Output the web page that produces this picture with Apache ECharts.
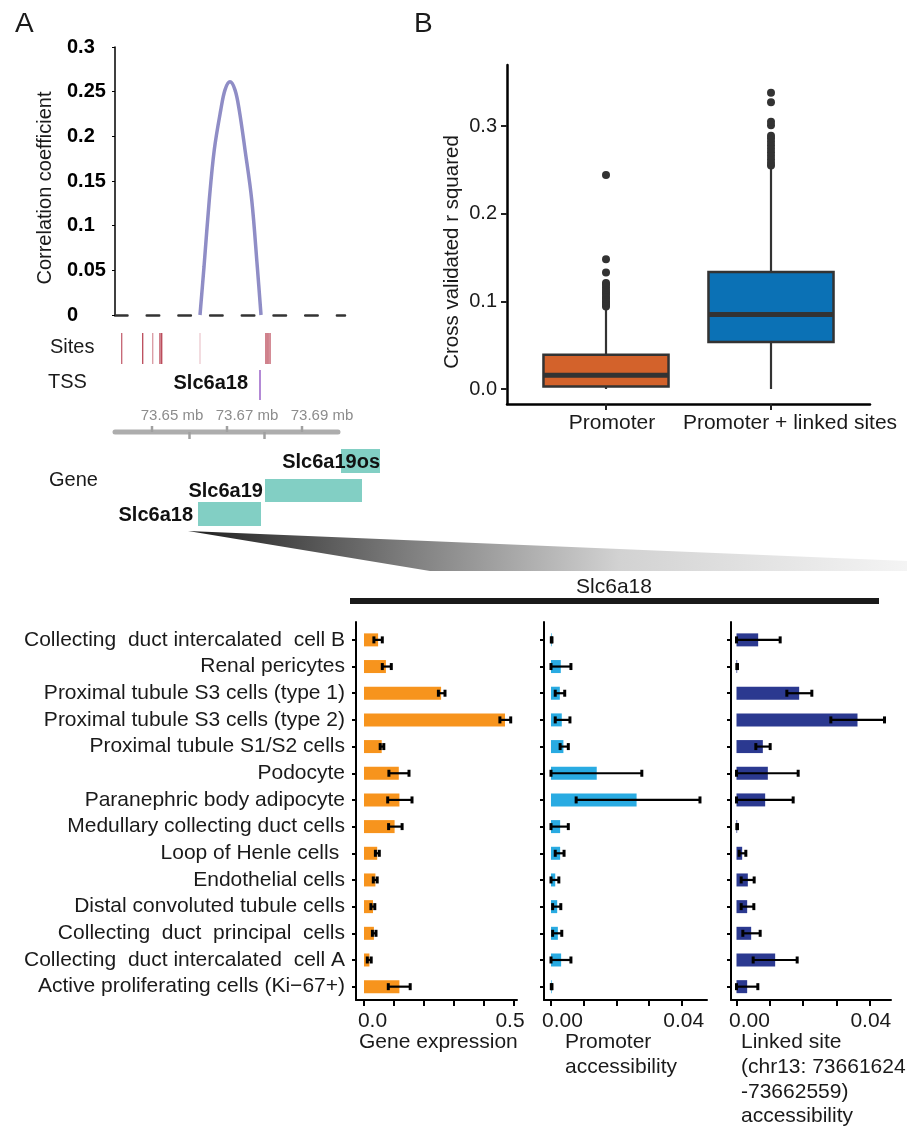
<!DOCTYPE html>
<html><head><meta charset="utf-8">
<script src="https://cdn.jsdelivr.net/npm/echarts@6/dist/echarts.min.js"></script>
<style>html,body{margin:0;padding:0;background:#fff}#c{width:907px;height:1128px}</style>
</head><body><div id="c"></div>
<script>
// ---------------- DATA ----------------
// Panel A : correlation arc between linked site and TSS (genomic positions in mb)
const corrTickValues = [0, 0.05, 0.1, 0.15, 0.2, 0.25, 0.3];
const corrTickLabels = ['0', '0.05', '0.1', '0.15', '0.2', '0.25', '0.3'];
const linkArcMb = [73.6628, 73.66387, 73.66528, 73.66661, 73.66832, 73.66947, 73.6708, 73.67213, 73.67328, 73.6748, 73.67659, 73.67808, 73.67907];
const linkArcR  = [0, 0.054, 0.129, 0.185, 0.229, 0.252, 0.261, 0.252, 0.229, 0.185, 0.129, 0.054, 0];
const sitePositionsMb = [73.64192, 73.64752, 73.65019, 73.65213, 73.65259, 73.6628, 73.6804, 73.68093, 73.68147];
const siteShade = [0.7, 0.85, 0.4, 0.9, 0.9, 0.12, 0.9, 0.9, 0.8];
const tssPositionsMb = [73.6788];
const tssGenes = ['Slc6a18'];
const geneNames = ['Slc6a18', 'Slc6a19', 'Slc6a19os'];
const geneStartsMb = [73.66227, 73.68013, 73.7004];
const geneEndsMb = [73.67907, 73.70600, 73.7108];
const rulerTicksMb = [73.65, 73.66, 73.67, 73.68, 73.69];
const rulerTickLabels = ['73.65 mb', '', '73.67 mb', '', '73.69 mb'];
const rulerStartMb = 73.640133, rulerEndMb = 73.6996;

// Panel B : boxplots of cross-validated r squared
const boxCategories = ['Promoter', 'Promoter + linked sites'];
const boxStats = [ // [min, Q1, median, Q3, max]
  [0, 0.003, 0.0156, 0.0392, 0.091],
  [0, 0.0537, 0.0849, 0.1336, 0.252]
];
const promoterOutliers = [0.094, 0.096, 0.098, 0.100, 0.103, 0.105, 0.108, 0.110, 0.113, 0.116, 0.119, 0.121, 0.133, 0.148, 0.244];
const linkedOutliers = [0.255, 0.258, 0.262, 0.266, 0.270, 0.274, 0.278, 0.282, 0.286, 0.289, 0.301, 0.305, 0.327, 0.338];
const boxTickValues = [0, 0.1, 0.2, 0.3];
const boxTickLabels = ['0.0', '0.1', '0.2', '0.3'];

// Panel C : Slc6a18 per cell type
const cellTypes = [
  'Collecting  duct intercalated  cell B',
  'Renal pericytes',
  'Proximal tubule S3 cells (type 1)',
  'Proximal tubule S3 cells (type 2)',
  'Proximal tubule S1/S2 cells',
  'Podocyte',
  'Paranephric body adipocyte',
  'Medullary collecting duct cells',
  'Loop of Henle cells ',
  'Endothelial cells',
  'Distal convoluted tubule cells',
  'Collecting  duct  principal  cells',
  'Collecting  duct intercalated  cell A',
  'Active proliferating cells (Ki\u221267+)'
];
const geneExpr   = [0.047, 0.073, 0.257, 0.470, 0.059, 0.116, 0.118, 0.102, 0.044, 0.038, 0.030, 0.033, 0.018, 0.118];
const geneExprLo = [0.033, 0.061, 0.248, 0.453, 0.054, 0.083, 0.079, 0.082, 0.038, 0.031, 0.023, 0.028, 0.011, 0.081];
const geneExprHi = [0.061, 0.091, 0.270, 0.489, 0.066, 0.150, 0.160, 0.127, 0.051, 0.044, 0.036, 0.040, 0.024, 0.154];
const promAcc   = [0.0002, 0.0030, 0.0027, 0.0033, 0.0038, 0.0140, 0.0262, 0.0028, 0.0028, 0.0013, 0.0019, 0.0021, 0.0031, 0.0002];
const promAccLo = [0.0001, 0.0000, 0.0013, 0.0013, 0.0028, 0.0000, 0.0077, 0.0000, 0.0013, 0.0000, 0.0005, 0.0005, 0.0000, 0.0001];
const promAccHi = [0.0003, 0.0061, 0.0042, 0.0058, 0.0053, 0.0278, 0.0456, 0.0053, 0.0040, 0.0024, 0.0030, 0.0033, 0.0061, 0.0003];
const linkAcc   = [0.0065, 0.0002, 0.0188, 0.0363, 0.0079, 0.0094, 0.0086, 0.0002, 0.0017, 0.0034, 0.0032, 0.0044, 0.0116, 0.0032];
const linkAccLo = [0.0000, 0.0001, 0.0151, 0.0283, 0.0058, 0.0000, 0.0000, 0.0001, 0.0008, 0.0014, 0.0014, 0.0019, 0.0050, 0.0000];
const linkAccHi = [0.0131, 0.0003, 0.0226, 0.0444, 0.0101, 0.0185, 0.0170, 0.0003, 0.0028, 0.0053, 0.0052, 0.0071, 0.0182, 0.0064];
const geneExprTicks = [0, 0.1, 0.2, 0.3, 0.4, 0.5];
const geneExprLabelValues = [0, 0.5];
const geneExprLabelTexts = ['0.0', '0.5'];
const accTicks = [0, 0.01, 0.02, 0.03, 0.04];
const accLabelValues = [0, 0.04];
const accLabelTexts = ['0.00', '0.04'];

// ---------------- STYLE / LAYOUT ----------------
const FONT = '"Liberation Sans", Arial, Helvetica, sans-serif';
const TXT = '#1a1a1a';
const xMinMb = 73.640133, xMaxMb = 73.701467;

const chart = echarts.init(document.getElementById('c'), null, {renderer: 'canvas'});

function txt(x, y, text, opt) {
  opt = opt || {};
  const al = opt.align || 'left', va = opt.va || 'middle';
  return {
    type: 'text', x: x, y: y, rotation: opt.rotation || 0, z: 10,
    style: {
      text: text, font: (opt.weight || 'normal') + ' ' + (opt.size || 20) + 'px ' + FONT,
      fill: opt.color || TXT, align: al, textAlign: al, verticalAlign: va, textVerticalAlign: va
    }
  };
}

function mixColor(t) {
  const a = [244, 222, 226], b = [176, 46, 64];
  const c = a.map((v, i) => Math.round(v + (b[i] - v) * t));
  return 'rgb(' + c.join(',') + ')';
}

function barSeries(idx, vals, lo, hi, color) {
  return {
    type: 'custom', xAxisIndex: idx, yAxisIndex: idx, clip: false,
    data: vals.map((v, i) => [v, i + 1, lo[i], hi[i]]),
    encode: {x: [0, 2, 3], y: 1},
    renderItem: function (params, api) {
      const v = api.value(0), c = api.value(1), l = api.value(2), h = api.value(3);
      const p0 = api.coord([0, c]), p1 = api.coord([v, c]);
      const pl = api.coord([l, c]), ph = api.coord([h, c]);
      const bh = 13;
      return {type: 'group', children: [
        {type: 'rect', shape: {x: p0[0], y: p0[1] - bh / 2, width: Math.max(0, p1[0] - p0[0]), height: bh}, style: {fill: color}},
        {type: 'line', shape: {x1: pl[0], y1: pl[1], x2: ph[0], y2: ph[1]}, style: {stroke: '#000', lineWidth: 2.2}},
        {type: 'rect', shape: {x: pl[0] - 1.5, y: pl[1] - 3.5, width: 3, height: 7}, style: {fill: '#000'}},
        {type: 'rect', shape: {x: ph[0] - 1.5, y: ph[1] - 3.5, width: 3, height: 7}, style: {fill: '#000'}}
      ]};
    }
  };
}

function barYAxis(idx, showLabels) {
  const cats = cellTypes.map((_, i) => i + 1);
  return {
    gridIndex: idx, type: 'value', inverse: true, min: 0.33, max: 14.5,
    splitLine: {show: false},
    axisLine: {show: true, onZero: false, lineStyle: {color: '#000', width: 2}},
    axisTick: {show: true, customValues: cats, length: 4, lineStyle: {color: '#000', width: 2}},
    axisLabel: {show: showLabels, customValues: cats, margin: 11, fontSize: 21, fontFamily: FONT, color: TXT,
      formatter: v => cellTypes[Math.round(v) - 1]}
  };
}

// padFirst / padLast: label paddings that reproduce the reference's label offsets from their ticks
function barXAxis(idx, min, max, ticks, labelValues, labelTexts, padFirst, padLast) {
  return {
    gridIndex: idx, type: 'value', min: min, max: max,
    splitLine: {show: false},
    axisLine: {show: true, onZero: false, lineStyle: {color: '#000', width: 2}},
    axisTick: {show: true, customValues: ticks, length: 6, lineStyle: {color: '#000', width: 2}},
    axisLabel: {customValues: labelValues, margin: 11, fontSize: 21, fontFamily: FONT, color: TXT,
      formatter: v => {
        const i = labelValues.findIndex(t => Math.abs(t - v) < 1e-9);
        return i === 0 ? '{f|' + labelTexts[i] + '}' : '{l|' + labelTexts[i] + '}';
      },
      rich: {
        f: {fontSize: 21, fontFamily: FONT, color: TXT, padding: padFirst},
        l: {fontSize: 21, fontFamily: FONT, color: TXT, padding: padLast}
      }}
  };
}

const option = {
  animation: false,
  backgroundColor: '#fff',
  grid: [
    {left: 115, top: 47, width: 230, height: 268, outerBoundsMode: 'none'},   // 0 correlation
    {left: 115, top: 320, width: 230, height: 220, outerBoundsMode: 'none'},  // 1 tracks
    {left: 507, top: 65, width: 363, height: 339, outerBoundsMode: 'none'},   // 2 boxplot
    {left: 356, top: 622, width: 161, height: 378, outerBoundsMode: 'none'},  // 3 gene expr
    {left: 544, top: 622, width: 163, height: 378, outerBoundsMode: 'none'},  // 4 promoter
    {left: 731, top: 622, width: 160, height: 378, outerBoundsMode: 'none'}   // 5 linked
  ],
  xAxis: [
    {gridIndex: 0, type: 'value', min: xMinMb, max: xMaxMb, splitLine: {show: false},
      axisLine: {show: true, onZero: false, lineStyle: {color: '#333', width: 2.5, type: [12.5, 19.2]}},
      axisTick: {show: false}, axisLabel: {show: false}},
    {gridIndex: 1, type: 'value', min: xMinMb, max: xMaxMb, show: false},
    {gridIndex: 2, type: 'value', min: 0.4, max: 2.6, splitLine: {show: false},
      axisLine: {show: true, onZero: false, lineStyle: {color: '#000', width: 2.5}},
      axisTick: {show: true, customValues: [1, 2], length: 6, lineStyle: {color: '#222', width: 2}},
      axisLabel: {customValues: [1, 2], margin: 9, fontSize: 21, fontFamily: FONT, color: TXT,
        formatter: v => '{c' + Math.round(v) + '|' + boxCategories[Math.round(v) - 1] + '}',
        rich: {
          c1: {fontSize: 21, fontFamily: FONT, color: TXT, padding: [0, 0, 0, 12]},
          c2: {fontSize: 21, fontFamily: FONT, color: TXT, padding: [0, 0, 0, 38]}
        }}},
    barXAxis(3, -0.02667, 0.51, geneExprTicks, geneExprLabelValues, geneExprLabelTexts, [0, 0, 0, 17], [0, 8, 0, 0]),
    barXAxis(4, -0.00214, 0.04775, accTicks, accLabelValues, accLabelTexts, [0, 0, 0, 23], [0, 0, 0, 4]),
    barXAxis(5, -0.00165, 0.04635, accTicks, accLabelValues, accLabelTexts, [0, 0, 0, 26], [0, 0, 0, 2])
  ],
  yAxis: [
    {gridIndex: 0, type: 'value', min: 0, max: 0.3, splitLine: {show: false},
      axisLine: {show: true, onZero: false, lineStyle: {color: '#000', width: 1.5}},
      axisTick: {show: true, customValues: corrTickValues, length: 3, lineStyle: {color: '#000', width: 1}},
      axisLabel: {customValues: corrTickValues, align: 'left', margin: 48, fontSize: 20, fontWeight: 'bold', fontFamily: FONT, color: '#000',
        formatter: v => corrTickLabels[corrTickValues.findIndex(t => Math.abs(t - v) < 1e-9)]}},
    {gridIndex: 1, type: 'value', min: 0, max: 1, show: false},
    {gridIndex: 2, type: 'value', min: -0.0171, max: 0.3696, splitLine: {show: false},
      axisLine: {show: true, onZero: false, lineStyle: {color: '#000', width: 2.5}},
      axisTick: {show: true, customValues: boxTickValues, length: 6, lineStyle: {color: '#222', width: 2}},
      axisLabel: {customValues: boxTickValues, margin: 10, fontSize: 20, fontFamily: FONT, color: TXT,
        formatter: v => boxTickLabels[boxTickValues.findIndex(t => Math.abs(t - v) < 1e-9)]}},
    barYAxis(3, true),
    barYAxis(4, false),
    barYAxis(5, false)
  ],
  series: [
    // Panel A correlation arc
    {type: 'line', xAxisIndex: 0, yAxisIndex: 0, data: linkArcMb.map((m, i) => [m, linkArcR[i]]),
      smooth: 0.35, symbol: 'none', lineStyle: {color: '#8f8dc6', width: 3.5}, z: 5},
    // Sites
    {type: 'custom', xAxisIndex: 1, yAxisIndex: 1, clip: false,
      data: sitePositionsMb.map((p, i) => [p, siteShade[i]]), encode: {x: 0},
      renderItem: (params, api) => {
        const x = api.coord([api.value(0), 0])[0];
        return {type: 'line', shape: {x1: x, y1: 333, x2: x, y2: 364}, style: {stroke: mixColor(api.value(1)), lineWidth: 1.3}};
      }},
    // TSS
    {type: 'custom', xAxisIndex: 1, yAxisIndex: 1, clip: false,
      data: tssPositionsMb.map((p, i) => [p, i]), encode: {x: 0},
      renderItem: (params, api) => {
        const x = api.coord([api.value(0), 0])[0];
        return {type: 'group', children: [
          {type: 'line', shape: {x1: x, y1: 370, x2: x, y2: 400}, style: {stroke: '#9a62c8', lineWidth: 1.5}},
          {type: 'text', style: {text: tssGenes[api.value(1)], x: x - 12, y: 383, font: 'bold 20px ' + FONT, fill: '#111',
            align: 'right', textAlign: 'right', verticalAlign: 'middle', textVerticalAlign: 'middle'}}
        ]};
      }},
    // Ruler
    {type: 'custom', xAxisIndex: 1, yAxisIndex: 1, clip: false,
      data: [[rulerStartMb, rulerEndMb]], encode: {x: [0, 1]},
      renderItem: (params, api) => {
        const xs = api.coord([api.value(0), 0])[0], xe = api.coord([api.value(1), 0])[0];
        const ch = [{type: 'line', shape: {x1: xs, y1: 432, x2: xe, y2: 432}, style: {stroke: '#adadad', lineWidth: 5, lineCap: 'round'}}];
        rulerTicksMb.forEach((t, i) => {
          const x = api.coord([t, 0])[0];
          const top = i % 2 === 0;
          ch.push({type: 'line', shape: {x1: x, y1: top ? 426 : 432, x2: x, y2: top ? 432 : 439}, style: {stroke: '#a0a0a0', lineWidth: 2.5}});
          if (rulerTickLabels[i]) ch.push({type: 'text', style: {text: rulerTickLabels[i], x: x + 20, y: 416, font: '15px ' + FONT, fill: '#8c8c8c',
            align: 'center', textAlign: 'center', verticalAlign: 'middle', textVerticalAlign: 'middle'}});
        });
        return {type: 'group', children: ch};
      }},
    // Genes
    {type: 'custom', xAxisIndex: 1, yAxisIndex: 1, clip: false,
      data: geneNames.map((g, i) => [geneStartsMb[i], geneEndsMb[i], i]), encode: {x: [0, 1]},
      renderItem: (params, api) => {
        const rowTop = [502, 479, 449], rowH = [24, 23, 24];
        const i = api.value(2);
        const xs = api.coord([api.value(0), 0])[0], xe = api.coord([api.value(1), 0])[0];
        const name = geneNames[i];
        const lx = name === 'Slc6a19os' ? xe : xs - (name === 'Slc6a18' ? 5 : 2);
        return {type: 'group', children: [
          {type: 'rect', shape: {x: xs, y: rowTop[i], width: xe - xs, height: rowH[i]}, style: {fill: '#82cfc4'}},
          {type: 'text', style: {text: name, x: lx, y: rowTop[i] + rowH[i] / 2 + 1, font: 'bold 20px ' + FONT, fill: '#111',
            align: 'right', textAlign: 'right', verticalAlign: 'middle', textVerticalAlign: 'middle'}}
        ]};
      }},
    // Panel B boxes
    {type: 'custom', xAxisIndex: 2, yAxisIndex: 2, clip: false,
      data: boxStats.map((s, i) => [i + 1].concat(s)), encode: {x: 0, y: [1, 2, 3, 4, 5]},
      renderItem: (params, api) => {
        const c = api.value(0);
        const hw = 0.379;
        const colors = ['#d3622b', '#0b71b5'];
        const pMin = api.coord([c, api.value(1)]), pQ1 = api.coord([c, api.value(2)]), pMed = api.coord([c, api.value(3)]);
        const pQ3 = api.coord([c, api.value(4)]), pMax = api.coord([c, api.value(5)]);
        const xl = api.coord([c - hw, 0])[0], xr = api.coord([c + hw, 0])[0];
        return {type: 'group', children: [
          {type: 'line', shape: {x1: pMin[0], y1: pMin[1], x2: pMin[0], y2: pQ1[1]}, style: {stroke: '#333', lineWidth: 2.2}},
          {type: 'line', shape: {x1: pMax[0], y1: pMax[1], x2: pMax[0], y2: pQ3[1]}, style: {stroke: '#333', lineWidth: 2.2}},
          {type: 'rect', shape: {x: xl, y: pQ3[1], width: xr - xl, height: pQ1[1] - pQ3[1]}, style: {fill: colors[params.dataIndex], stroke: '#333', lineWidth: 2.5}},
          {type: 'line', shape: {x1: xl, y1: pMed[1], x2: xr, y2: pMed[1]}, style: {stroke: '#333', lineWidth: 5}}
        ]};
      }},
    {type: 'scatter', xAxisIndex: 2, yAxisIndex: 2, symbolSize: 8, itemStyle: {color: '#333', opacity: 1},
      data: promoterOutliers.map(v => [1, v]).concat(linkedOutliers.map(v => [2, v]))},
    // Panel C bars
    barSeries(3, geneExpr, geneExprLo, geneExprHi, '#f7941d'),
    barSeries(4, promAcc, promAccLo, promAccHi, '#29abe2'),
    barSeries(5, linkAcc, linkAccLo, linkAccHi, '#2b3990')
  ],
  graphic: [
    {type: 'polygon', z: 0, shape: {points: [[188, 531], [907, 561], [907, 571], [430, 571]]},
      style: {fill: new echarts.graphic.LinearGradient(0, 0, 1, 0.6, [
        {offset: 0, color: '#1e1e1e'}, {offset: 0.3, color: '#7c7c7c'}, {offset: 0.6, color: '#d2d2d2'}, {offset: 1, color: '#f4f4f4'}])}},
    txt(15, 24, 'A', {size: 28}),
    txt(414, 24, 'B', {size: 28}),
    txt(45, 188, 'Correlation coefficient', {align: 'center', rotation: Math.PI / 2}),
    txt(50, 347, 'Sites'),
    txt(48, 382, 'TSS'),
    txt(49, 480, 'Gene'),
    txt(452, 252, 'Cross validated r squared', {align: 'center', rotation: Math.PI / 2, size: 20.5}),
    txt(614, 587, 'Slc6a18', {align: 'center', size: 21}),
    {type: 'rect', shape: {x: 350, y: 598, width: 529, height: 6}, style: {fill: '#1a1a1a'}},
    txt(359, 1042, 'Gene expression', {size: 21}),
    txt(565, 1042, 'Promoter', {size: 21}),
    txt(565, 1067, 'accessibility', {size: 21}),
    txt(741, 1042, 'Linked site', {size: 21}),
    txt(741, 1067, '(chr13: 73661624', {size: 21}),
    txt(741, 1092, '-73662559)', {size: 21}),
    txt(741, 1116, 'accessibility', {size: 21})
  ]
};
chart.setOption(option);
</script>
</body></html>
